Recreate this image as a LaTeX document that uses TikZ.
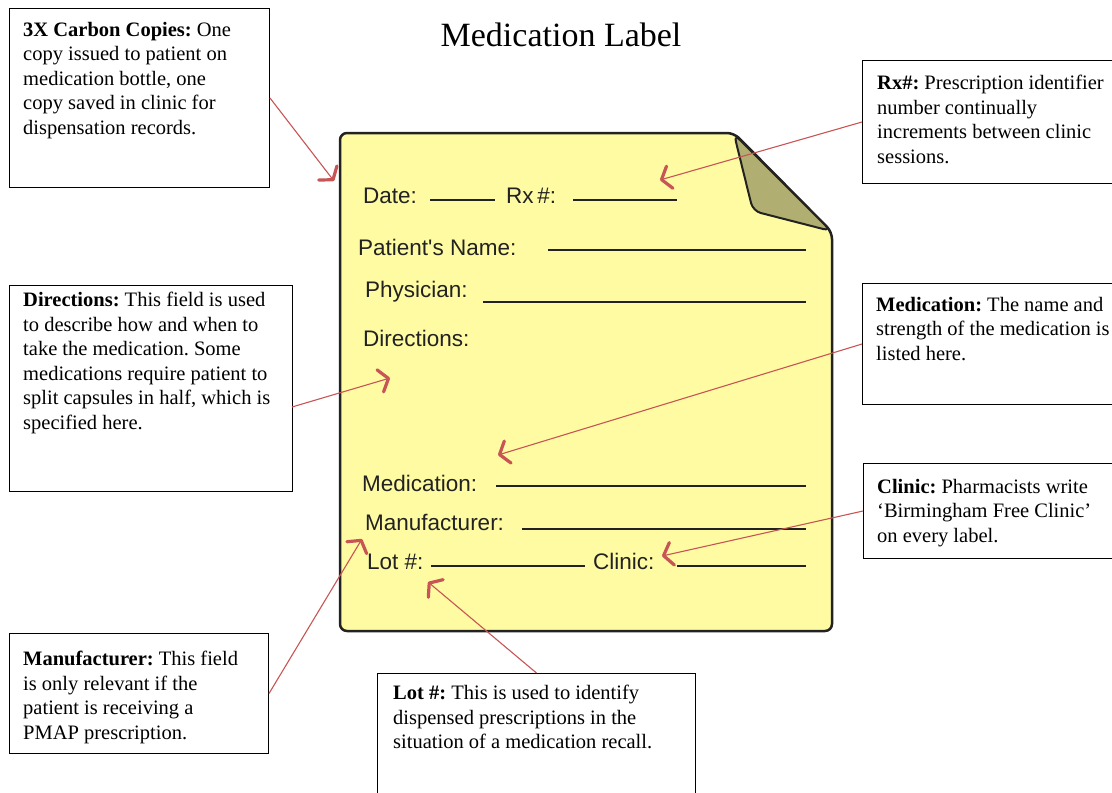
\documentclass[tikz,border=0pt]{standalone}
\usepackage{fontspec}
\setmainfont{Liberation Serif}
\newfontfamily\fieldfont{Liberation Sans}
\usetikzlibrary{arrows.meta}
\definecolor{paper}{RGB}{254,251,162}
\definecolor{flapcol}{RGB}{176,174,112}
\definecolor{ink}{RGB}{34,34,34}
\definecolor{pointercol}{RGB}{200,85,85}

\begin{document}
\frenchspacing
\begin{tikzpicture}[x=1pt,y=-1pt,
  note/.style={draw=black, line width=1pt, anchor=north west, inner sep=0pt},
  notetext/.style={anchor=north west, inner sep=0pt, align=left,
    font=\fontsize{20.5}{24.5}\selectfont},
  field/.style={anchor=base west, inner sep=0pt, text=ink,
    font=\fieldfont\fontsize{22.5}{26}\selectfont},
  blank/.style={ink, line width=2.6pt},
  pointer/.style={pointercol, line width=1.1pt,
    -{Straight Barb[length=8.5pt,width=23pt,line width=3.2pt,round]}},
]
\useasboundingbox (0,0) rectangle (1112,793);
\clip (0,0) rectangle (1112,793);

% title
\node[anchor=base, inner sep=0pt, font=\fontsize{34}{40}\selectfont] (title) at (561,46) {Medication Label};

% the label sheet with its folded corner
\draw[ink, line width=2.5pt, fill=paper, rounded corners=7pt, line join=round]
  (340,133) -- (734,133) -- (832,232) -- (832,631) -- (340,631) -- cycle;
\draw[ink, line width=2pt, fill=flapcol, rounded corners=8pt, line join=round]
  (734,134) -- (753,211) -- (831,231) -- cycle;

% fields on the label
\node[field] (date) at (363,203) {Date:};
\draw[blank] (430,200) -- (495,200);
\node[field] (rx) at (506,203) {Rx\,\#:};
\draw[blank] (573,200) -- (677,200);
\node[field] (patient) at (358,255) {Patient's Name:};
\draw[blank] (548,250) -- (806,250);
\node[field] (physician) at (365,297) {Physician:};
\draw[blank] (483,302) -- (806,302);
\node[field] (directions) at (363,346) {Directions:};
\node[field] (medication) at (362,491) {Medication:};
\draw[blank] (496,486) -- (806,486);
\node[field] (manufacturer) at (365,530) {Manufacturer:};
\draw[blank] (522,529) -- (806,529);
\node[field] (lot) at (367,569) {Lot \#:};
\draw[blank] (431,566) -- (585,566);
\node[field] (clinic) at (593,569) {Clinic:};
\draw[blank] (677,566) -- (806,566);

% explanation boxes
\node[note, minimum width=260pt, minimum height=179pt] (carbonbox) at (9,8) {};
\node[notetext] (carbontext) at (23,22) {\textbf{3X Carbon Copies:} One\\copy issued to patient on\\medication bottle, one\\copy saved in clinic for\\dispensation records.};

\node[note, minimum width=270pt, minimum height=123pt] (rxbox) at (862,60) {};
\node[notetext] (rxtext) at (877,75) {\textbf{Rx\#:} Prescription identifier\\number continually\\increments between clinic\\sessions.};

\node[note, minimum width=270pt, minimum height=121pt] (medbox) at (862,283) {};
\node[notetext] (medtext) at (876,297) {\textbf{Medication:} The name and\\strength of the medication is\\listed here.};

\node[note, minimum width=270pt, minimum height=95pt] (clinicbox) at (863,463) {};
\node[notetext] (clinictext) at (877,479) {\textbf{Clinic:} Pharmacists write\\‘Birmingham Free Clinic’\\on every label.};

\node[note, minimum width=283pt, minimum height=206pt] (dirbox) at (9,285) {};
\node[notetext] (dirtext) at (23,292) {\textbf{Directions:} This field is used\\to describe how and when to\\take the medication. Some\\medications require patient to\\split capsules in half, which is\\specified here.};

\node[note, minimum width=259pt, minimum height=120pt] (manubox) at (9,633) {};
\node[notetext] (manutext) at (23,651) {\textbf{Manufacturer:} This field\\is only relevant if the\\patient is receiving a\\PMAP prescription.};

\node[note, minimum width=318pt, minimum height=140pt] (lotbox) at (377,673) {};
\node[notetext] (lottext) at (393,685) {\textbf{Lot \#:} This is used to identify\\dispensed prescriptions in the\\situation of a medication recall.};

% points on the label that the boxes refer to
\coordinate (carbontip) at (334,181);
\coordinate (rxtip) at (660,180);
\coordinate (dirtip) at (390,378);
\coordinate (dirstart) at (292,407);
\coordinate (medtip) at (498,455);
\coordinate (clinictip) at (662,556);
\coordinate (manutip) at (362,539);
\coordinate (lottip) at (428,582);

% pointers
\draw[pointer] (carbonbox.east) -- (carbontip);
\draw[pointer] (rxbox.west) -- (rxtip);
\draw[pointer] (dirstart) -- (dirtip);
\draw[pointer] (medbox.west) -- (medtip);
\draw[pointer] (clinicbox.west) -- (clinictip);
\draw[pointer] (manubox.east) -- (manutip);
\draw[pointer] (lotbox.north) -- (lottip);
\end{tikzpicture}
\end{document}
